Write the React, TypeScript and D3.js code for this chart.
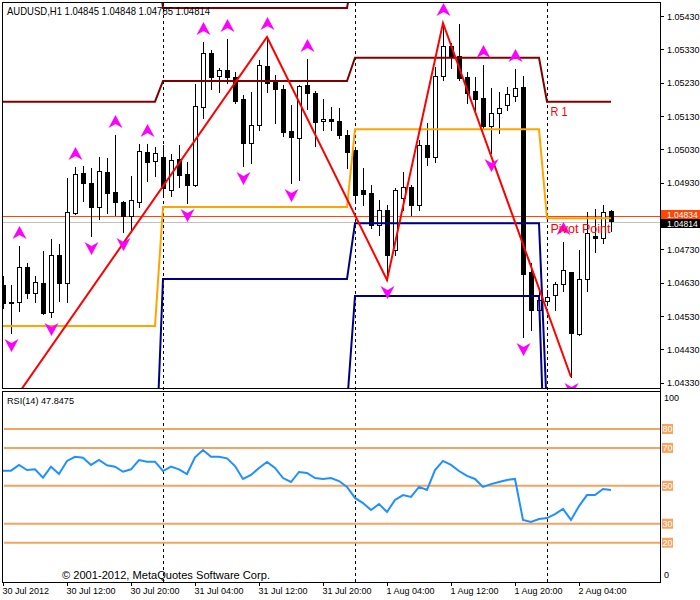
import React from "react";
import * as d3 from "d3";

// ---- Data (AUDUSD H1, 30 Jul 04:00 .. 2 Aug 08:00) ----
const opens = [1.04623,1.04572,1.04572,1.04677,1.04599,1.04629,1.04542,1.04713,1.04629,1.04839,
1.04959,1.04929,1.04857,1.04962,1.04902,1.04872,1.04830,1.04872,1.05022,1.04995,
1.05007,1.04908,1.05001,1.04956,1.04923,1.05157,1.05319,1.05250,1.05268,1.05247,
1.05181,1.05049,1.05103,1.05280,1.05238,1.05211,1.05085,1.05064,1.05223,1.05199,
1.05115,1.05121,1.05115,1.05073,1.05028,1.04908,1.04899,1.04803,1.04848,1.04728,
1.04884,1.04917,1.04863,1.05043,1.05007,1.05250,1.05340,1.05310,1.05247,1.05205,
1.05184,1.05100,1.05139,1.05163,1.05190,1.05217,1.04662,1.04548,1.04575,1.04593,
1.04626,1.04662,1.04476,1.04641,1.04770,1.04764,1.04845];
const highs = [1.04650,1.04623,1.04740,1.04689,1.04650,1.04725,1.04761,1.04746,1.04944,1.04977,
1.04980,1.04974,1.05007,1.05004,1.05073,1.04875,1.04950,1.05046,1.05046,1.05037,
1.05043,1.05016,1.05043,1.04992,1.05226,1.05352,1.05328,1.05274,1.05361,1.05262,
1.05193,1.05202,1.05298,1.05367,1.05253,1.05223,1.05163,1.05223,1.05301,1.05205,
1.05181,1.05157,1.05154,1.05088,1.05034,1.04974,1.04923,1.04878,1.04863,1.04914,
1.04962,1.04923,1.05058,1.05109,1.05277,1.05409,1.05349,1.05406,1.05262,1.05247,
1.05283,1.05214,1.05202,1.05217,1.05271,1.05250,1.04689,1.04608,1.04608,1.04632,
1.04752,1.04662,1.04728,1.04842,1.04851,1.04863,1.04848];
const lows = [1.04554,1.04479,1.04545,1.04584,1.04572,1.04536,1.04527,1.04575,1.04572,1.04836,
1.04875,1.04770,1.04821,1.04839,1.04833,1.04782,1.04782,1.04857,1.04935,1.04950,
1.04887,1.04890,1.04917,1.04869,1.04920,1.05124,1.05211,1.05202,1.05229,1.05169,
1.04980,1.04989,1.05088,1.05202,1.05109,1.05070,1.04929,1.04938,1.05151,1.05040,
1.05088,1.05088,1.05064,1.04974,1.04878,1.04863,1.04794,1.04773,1.04638,1.04713,
1.04848,1.04833,1.04848,1.04983,1.04992,1.05238,1.05274,1.05238,1.05169,1.05142,
1.05094,1.05019,1.05079,1.05148,1.05175,1.04467,1.04488,1.04518,1.04563,1.04548,
1.04605,1.04347,1.04473,1.04605,1.04722,1.04749,1.04785];
const closes = [1.04569,1.04569,1.04677,1.04599,1.04632,1.04539,1.04713,1.04629,1.04842,1.04956,
1.04929,1.04857,1.04965,1.04899,1.04872,1.04830,1.04878,1.05025,1.04992,1.05019,
1.04914,1.04998,1.04953,1.04923,1.05160,1.05319,1.05247,1.05268,1.05247,1.05175,
1.05049,1.05103,1.05283,1.05229,1.05211,1.05082,1.05067,1.05220,1.05199,1.05112,
1.05121,1.05115,1.05073,1.05022,1.04893,1.04896,1.04803,1.04848,1.04713,1.04908,
1.04917,1.04863,1.05043,1.05007,1.05250,1.05340,1.05307,1.05244,1.05199,1.05181,
1.05100,1.05139,1.05154,1.05196,1.05214,1.04656,1.04548,1.04578,1.04587,1.04626,
1.04668,1.04479,1.04641,1.04779,1.04764,1.04842,1.04814];

const rsiValues = [58.0,58.0,61.0,58.3,58.7,54.3,60.1,56.2,63.1,65.3,
64.8,61.0,63.6,60.8,60.1,57.4,58.7,63.6,62.7,62.7,
57.8,60.1,58.7,56.2,65.0,68.9,65.3,65.3,64.5,60.4,
53.6,55.7,59.4,62.6,59.4,54.1,52.0,57.3,56.8,54.1,
53.6,54.1,52.5,49.4,43.6,40.9,37.2,40.4,36.2,42.5,
45.1,44.1,49.4,47.8,58.3,63.1,61.0,57.8,55.2,53.6,
49.4,50.9,52.0,53.1,53.6,32.0,30.9,32.5,33.0,35.1,
37.8,32.0,39.3,45.1,45.1,48.3,47.8475];
const rsiLevels = [80, 70, 50, 30, 20];

const timeLabels = ["30 Jul 2012","30 Jul 12:00","30 Jul 20:00","31 Jul 04:00","31 Jul 12:00","31 Jul 20:00","1 Aug 04:00","1 Aug 12:00","1 Aug 20:00","2 Aug 04:00"];
const timeLabelBars = [0, 8, 16, 24, 32, 40, 48, 56, 64, 72];
const priceTicks = [1.0543,1.0533,1.0523,1.0513,1.0503,1.0493,1.0473,1.0463,1.0453,1.0443,1.0433];

const dayStartBars = [0, 20, 44, 68];
const pivotP = [1.04500, 1.04857, 1.05090, 1.04823];
const pivotR1 = [1.05173, 1.05235, 1.05305, 1.05173];
const pivotR2 = [1.05638, 1.05454, 1.05587, 1.05759];
const pivotS1 = [1.04035, 1.04641, 1.04808, 1.04237];
const pivotS2 = [1.03362, 1.04263, 1.04590, 1.03887];

const zigzagBars = [-2, 33, 48, 55, 71];
const zigzagPrices = [1.04162, 1.05367, 1.04638, 1.05409, 1.04347];
const fractalUpBars = [2, 9, 14, 18, 25, 28, 33, 38, 55, 60, 64, 70];
const fractalDownBars = [1, 6, 11, 15, 23, 30, 36, 48, 61, 65, 71];

const askPrice = 1.04834;
const bidPrice = 1.04814;

const FONT = "'Liberation Sans', Arial, sans-serif";

export default function App() {
  const x = d3.scaleLinear().domain([0, 76]).range([3, 611]);
  const cx = (i: number) => Math.round(x(i)) + 0.5;
  const yP = d3.scaleLinear().domain([1.0433, 1.0543]).range([382.7, 16]);
  const yR = d3.scaleLinear().domain([0, 100]).range([580.6, 391]);

  const dayOf = (i: number) => {
    let d = 0;
    dayStartBars.forEach((s, k) => { if (i >= s) d = k; });
    return d;
  };
  const barIdx = d3.range(opens.length);
  const levelPath = (arr: number[]) =>
    d3.line<number>().x((i) => x(i)).y((i) => yP(arr[dayOf(i)]))(barIdx) || "";
  const zz = d3.line<number>().x((k) => x(zigzagBars[k])).y((k) => yP(zigzagPrices[k]))(d3.range(zigzagBars.length)) || "";
  const rsiPath = d3.line<number>().x((i) => x(i)).y((i) => yR(rsiValues[i]))(barIdx) || "";

  const askY = yP(askPrice);
  const bidY = yP(bidPrice);
  const askBoxY = Math.round(askY - 4.5);
  const bidBoxY = askBoxY + 9;

  const upArrow = (px: number, py: number) =>
    `M${px},${py - 7} L${px + 7},${py + 6} L${px},${py + 2} L${px - 7},${py + 6} Z`;
  const downArrow = (px: number, py: number) =>
    `M${px},${py + 7} L${px + 7},${py - 6} L${px},${py - 2} L${px - 7},${py - 6} Z`;

  return (
    <svg width={700} height={600} style={{ position: "absolute", left: 0, top: 0, background: "#fff" }} fontFamily={FONT}>
      <defs>
        <clipPath id="mainClip"><rect x={3} y={3} width={657} height={385} /></clipPath>
        <clipPath id="rsiClip"><rect x={3} y={392} width={657} height={190} /></clipPath>
      </defs>
      <rect x={0} y={0} width={700} height={600} fill="#fff" />

      {/* day separators */}
      {dayStartBars.slice(1).map((b) => (
        <line key={b} x1={cx(b)} x2={cx(b)} y1={3} y2={583} stroke="#000" strokeDasharray="3,3" />
      ))}

      <g clipPath="url(#mainClip)">
        {/* bid / ask lines */}
        <line x1={3} x2={660} y1={Math.round(bidY) + 1.5} y2={Math.round(bidY) + 1.5} stroke="#C0C0C0" />
        <line x1={3} x2={660} y1={Math.round(askY) + 1.5} y2={Math.round(askY) + 1.5} stroke="#FF4500" />

        {/* candles */}
        {barIdx.map((i) => {
          const px = cx(i);
          const o = yP(opens[i]), c = yP(closes[i]);
          const top = Math.round(Math.min(o, c)) + 0.5;
          const bot = Math.round(Math.max(o, c)) + 0.5;
          const bull = closes[i] >= opens[i];
          return (
            <g key={i} shapeRendering="crispEdges">
              <line x1={px} x2={px} y1={Math.round(yP(highs[i]))} y2={Math.round(yP(lows[i])) + 1} stroke="#000" />
              {bot - top < 1 ? (
                <line x1={px - 2.5} x2={px + 2.5} y1={top} y2={top} stroke="#000" />
              ) : (
                <rect x={px - 2} y={top} width={4} height={bot - top} fill={bull ? "#fff" : "#000"} stroke="#000" />
              )}
            </g>
          );
        })}

        {/* pivot levels */}
        <path d={levelPath(pivotR2)} fill="none" stroke="#800000" strokeWidth={2} />
        <path d={levelPath(pivotR1)} fill="none" stroke="#800000" strokeWidth={2} />
        <path d={levelPath(pivotP)} fill="none" stroke="#FFA500" strokeWidth={2} />
        <path d={levelPath(pivotS1)} fill="none" stroke="#000080" strokeWidth={2} />
        <path d={levelPath(pivotS2)} fill="none" stroke="#000080" strokeWidth={2} />

        {/* zigzag */}
        <path d={zz} fill="none" stroke="#FF0000" strokeWidth={2} />

        {/* fractals */}
        {fractalUpBars.map((i) => (
          <path key={"u" + i} d={upArrow(cx(i), yP(highs[i]) - 13)} fill="#FF00FF" />
        ))}
        {fractalDownBars.map((i) => (
          <path key={"d" + i} d={downArrow(cx(i), yP(lows[i]) + 12)} fill="#FF00FF" />
        ))}

        <text x={cx(68) + 3} y={yP(pivotR1[3]) + 14} fontSize={13} fill="#FF0000" textLength={17} lengthAdjust="spacingAndGlyphs">R 1</text>
        <text x={cx(68) + 3} y={yP(pivotP[3]) + 15} fontSize={13} fill="#FF0000" textLength={60} lengthAdjust="spacingAndGlyphs">Pivot Point</text>
      </g>

      {/* title */}
      <text x={7} y={15} fontSize={10.5} fill="#000" textLength={203} lengthAdjust="spacingAndGlyphs">AUDUSD,H1  1.04845 1.04848 1.04785 1.04814</text>

      {/* RSI panel */}
      <g clipPath="url(#rsiClip)">
        {rsiLevels.map((v) => (
          <line key={v} x1={4} x2={660} y1={yR(v)} y2={yR(v)} stroke="#F4A460" strokeWidth={2} />
        ))}
        <path d={rsiPath} fill="none" stroke="#1E90FF" strokeWidth={2} />
      </g>
      <text x={7} y={404} fontSize={9.5} fill="#000" textLength={67} lengthAdjust="spacingAndGlyphs">RSI(14) 47.8475</text>

      {/* frames */}
      <g shapeRendering="crispEdges">
        <rect x={2.5} y={2.5} width={658} height={386} fill="none" stroke="#000" />
        <rect x={2.5} y={391.5} width={658} height={190.5} fill="none" stroke="#000" />
        <line x1={660.5} x2={660.5} y1={2} y2={582} stroke="#000" />
      </g>

      {/* price axis */}
      {priceTicks.map((t) => (
        <g key={t} shapeRendering="crispEdges">
          <line x1={660} x2={664} y1={Math.round(yP(t)) + 0.5} y2={Math.round(yP(t)) + 0.5} stroke="#000" />
          <text x={667} y={yP(t) + 3.5} fontSize={9} fill="#000">{d3.format(".5f")(t)}</text>
        </g>
      ))}
      <rect x={661} y={askBoxY} width={39} height={9} fill="#FF4500" />
      <text x={667} y={askBoxY + 7.5} fontSize={8.5} fill="#fff">{d3.format(".5f")(askPrice)}</text>
      <rect x={661} y={bidBoxY} width={39} height={9} fill="#000" />
      <text x={667} y={bidBoxY + 7.5} fontSize={8.5} fill="#fff">{d3.format(".5f")(bidPrice)}</text>

      {/* RSI axis */}
      <text x={664} y={400.5} fontSize={9} fill="#000">100</text>
      <text x={664} y={578} fontSize={9} fill="#000">0</text>
      {rsiLevels.map((v) => (
        <g key={v}>
          <rect x={662} y={yR(v) - 5} width={11} height={10} fill="#F4A460" />
          <text x={662.5} y={yR(v) + 3.5} fontSize={9} fill="#fff">{v}</text>
        </g>
      ))}

      {/* time axis */}
      {timeLabelBars.map((b, k) => (
        <g key={b}>
          <line x1={cx(b)} x2={cx(b)} y1={582} y2={586} stroke="#000" shapeRendering="crispEdges" />
          <text x={cx(b) - 1} y={594} fontSize={9} fill="#000">{timeLabels[k]}</text>
        </g>
      ))}

      <text x={62} y={579} fontSize={10} fill="#000" textLength={208} lengthAdjust="spacingAndGlyphs">© 2001-2012, MetaQuotes Software Corp.</text>
    </svg>
  );
}
